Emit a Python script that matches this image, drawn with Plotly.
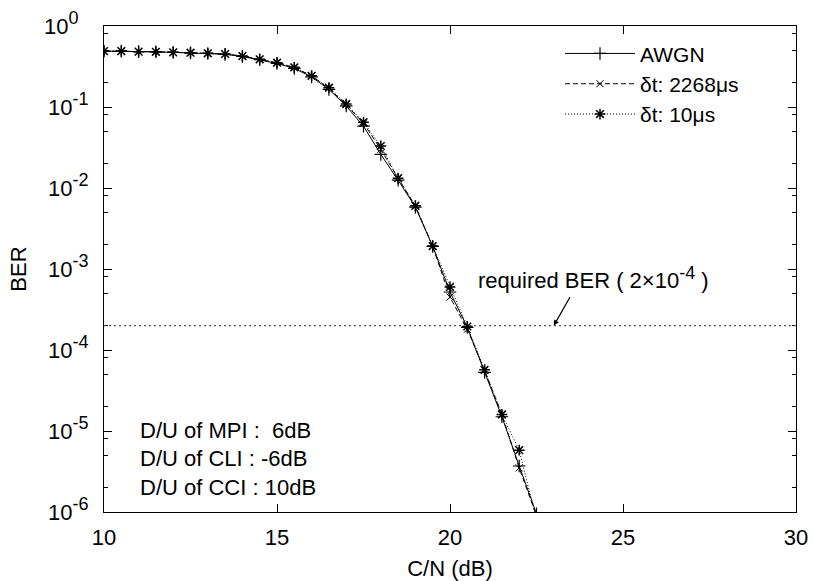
import plotly.graph_objects as go

# C/N sweep points (dB)
cn_db = [10.0, 10.5, 11.0, 11.5, 12.0, 12.5, 13.0, 13.5, 14.0, 14.5, 15.0, 15.5,
         16.0, 16.5, 17.0, 17.5, 18.0, 18.5, 19.0, 19.5, 20.0, 20.5, 21.0, 21.5,
         22.0, 22.5]

# BER curves
ber_awgn = [0.49, 0.49, 0.482, 0.48, 0.473, 0.466, 0.458, 0.447, 0.42, 0.383,
            0.345, 0.30, 0.235, 0.165, 0.103, 0.058, 0.026, 0.0125, 0.0058,
            0.0019, 5.2e-4, 1.9e-4, 5.3e-5, 1.5e-5, 3.7e-6, 9.5e-7]
ber_2268us = [0.49, 0.49, 0.482, 0.48, 0.473, 0.468, 0.46, 0.451, 0.426, 0.388,
              0.352, 0.307, 0.242, 0.17, 0.107, 0.063, 0.030, 0.0132, 0.006,
              0.0019, 4.5e-4, 1.8e-4, 5.6e-5, 1.6e-5, 3.5e-6, 9.0e-7]
ber_10us = [0.49, 0.49, 0.482, 0.48, 0.473, 0.468, 0.46, 0.451, 0.426, 0.388,
            0.352, 0.309, 0.243, 0.173, 0.109, 0.065, 0.033, 0.0132, 0.00605,
            0.00192, 6.0e-4, 1.95e-4, 5.7e-5, 1.6e-5, 5.8e-6, 8.0e-7]

series_names = ["AWGN", "\u03b4t: 2268\u03bcs", "\u03b4t: 10\u03bcs"]

required_ber = 2e-4

x_ticks = [10, 15, 20, 25, 30]
y_tick_exps = [0, -1, -2, -3, -4, -5, -6]
y_ticks = [10.0 ** e for e in y_tick_exps]
# exponent drawn a little larger than plotly's default superscript;
# the zero exponent is padded so every "10" starts in the same column
y_tick_text = ["10<sup><span style='font-size:18px'>%s</span></sup>"
               % ("%d" % e if e else "0\u2007") for e in y_tick_exps]
y_minor = [m * 10.0 ** e for e in range(-6, 0) for m in (2, 5, 8)]

interference_notes = ["D/U of MPI :\u00a0\u00a06dB",
                      "D/U of CLI : -6dB",
                      "D/U of CCI : 10dB"]

FONT = "Liberation Sans, Arial, Helvetica, sans-serif"
INK = "#000000"
FS = 22

fig = go.Figure()

styles = [
    dict(dash="solid", symbol="cross-thin", size=9, mw=1.2),
    dict(dash="5px,3px", symbol="x-thin", size=7, mw=1.0),
    dict(dash="1px,2px", symbol="asterisk", size=9, mw=1.5),
]
for name, ys, st in zip(series_names, [ber_awgn, ber_2268us, ber_10us], styles):
    fig.add_trace(go.Scatter(
        x=cn_db, y=ys, name=name, mode="lines+markers",
        line=dict(color=INK, width=1, dash=st["dash"]),
        marker=dict(symbol=st["symbol"], size=st["size"], color=INK,
                    line=dict(color=INK, width=st["mw"])),
        cliponaxis=True,
    ))

# required BER reference line
fig.add_shape(type="line", xref="paper", x0=0, x1=1, yref="y",
              y0=required_ber, y1=required_ber,
              line=dict(color="#555555", width=1.2, dash="2px,3px"))

fig.add_annotation(
    xref="paper", yref="paper", x=0.538, y=0.481, xanchor="left", yanchor="middle",
    text="required BER ( 2\u00d710<sup><span style='font-size:18px'>-4</span></sup> )",
    showarrow=False, font=dict(family=FONT, size=FS, color=INK))
fig.add_annotation(
    x=23.0, y=-3.699, xref="x", yref="y", text="", showarrow=True,
    ax=17, ay=-30, arrowhead=2, arrowsize=1, arrowwidth=1.1, arrowcolor=INK,
    standoff=0)

for i, note in enumerate(interference_notes):
    fig.add_annotation(
        xref="paper", yref="paper", x=(138 - 104) / 692,
        y=1 - (430 + 28.5 * i - 26) / 486, xanchor="left", yanchor="middle",
        text=note, showarrow=False, font=dict(family=FONT, size=FS, color=INK))

axis_common = dict(
    showline=True, linecolor=INK, linewidth=1.3, mirror="ticks",
    ticks="inside", ticklen=8, tickwidth=1, tickcolor=INK,
    showgrid=False, zeroline=False,
    tickfont=dict(family=FONT, size=FS, color=INK),
)

fig.update_xaxes(range=[10, 30], tickmode="array", tickvals=x_ticks,
                 ticklabelstandoff=5,
                 title=dict(text="C/N (dB)", standoff=13,
                            font=dict(family=FONT, size=FS, color=INK)),
                 **axis_common)
fig.update_yaxes(type="log", range=[-6, 0], tickmode="array", tickvals=y_ticks,
                 ticktext=y_tick_text, ticklabelstandoff=10,
                 minor=dict(tickmode="array", tickvals=y_minor, ticks="inside",
                            ticklen=4, tickcolor=INK, tickwidth=1, showgrid=False),
                 title=dict(text="BER", standoff=11,
                            font=dict(family=FONT, size=FS, color=INK)),
                 **axis_common)

fig.update_layout(
    width=813, height=581,
    margin=dict(l=104, r=17, t=26, b=69, autoexpand=False),
    paper_bgcolor="white", plot_bgcolor="white",
    font=dict(family=FONT, size=FS, color=INK),
    showlegend=True,
    legend=dict(x=(560 - 104) / 692, y=0.985, xanchor="left", yanchor="top",
                bgcolor="rgba(0,0,0,0)", borderwidth=0,
                itemwidth=70,
                font=dict(family=FONT, size=21, color=INK)),
)

fig.write_html("out.html")
